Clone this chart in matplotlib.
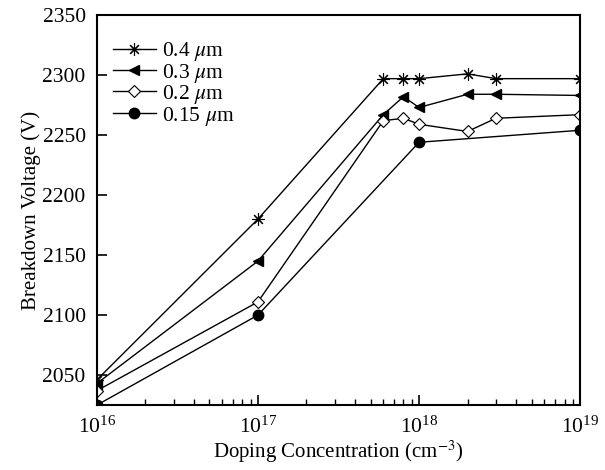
import matplotlib
matplotlib.use('Agg')
import matplotlib.pyplot as plt

plt.rcParams['font.family'] = 'Liberation Serif'
plt.rcParams['mathtext.fontset'] = 'stix'

# doping concentrations (cm^-3)
doping = [1e16, 1e17, 6e17, 8e17, 1e18, 2e18, 3e18, 1e19]
doping_015 = [1e16, 1e17, 1e18, 1e19]

# breakdown voltage (V) for each oxide thickness
bv_04 = [2046, 2180, 2297, 2297, 2297, 2301, 2297, 2297]
bv_03 = [2043, 2145, 2267, 2282, 2273, 2284, 2284, 2283]
bv_02 = [2037, 2111, 2262, 2264, 2259, 2253, 2264, 2267]
bv_015 = [2025, 2100, 2244, 2254]

fig = plt.figure(figsize=(6.05, 4.7), dpi=100)
ax = fig.add_axes([0.160, 0.138, 0.799, 0.830])

ax.plot(doping, bv_04, color='black', lw=1.0, marker=(8, 2, 0), ms=9,
        mew=0.8, label=r'0.4 $\mu$m')
ax.plot(doping, bv_03, color='black', lw=1.0, marker='<', ms=7.5,
        label=r'0.3 $\mu$m')
ax.plot(doping, bv_02, color='black', lw=1.0, marker='D', ms=6,
        mfc='white', mew=0.8, label=r'0.2 $\mu$m')
ax.plot(doping_015, bv_015, color='black', lw=1.0, marker='o', ms=7.5,
        label=r'0.15 $\mu$m')

ax.set_xscale('log')
ax.set_xlim(1e16, 1e19)
ax.set_ylim(2025, 2350)
ax.set_yticks([2050, 2100, 2150, 2200, 2250, 2300, 2350])

ax.tick_params(which='both', direction='in', labelsize=15.5, top=False, right=False)
ax.tick_params(which='major', length=7, width=1.2, pad=8)
ax.tick_params(which='minor', length=4, width=1.0)
for sp in ax.spines.values():
    sp.set_linewidth(1.5)

ax.set_xlabel('Doping Concentration (cm$^{-3}$)', fontsize=15, labelpad=1)
ax.set_ylabel('Breakdown Voltage (V)', fontsize=15, labelpad=1)

ax.legend(loc='upper left', frameon=False, fontsize=15.5, handlelength=2.0,
          handletextpad=0.3, labelspacing=-0.07, borderaxespad=0.0,
          bbox_to_anchor=(0.015, 0.958))

fig.savefig('out.png', dpi=100)
